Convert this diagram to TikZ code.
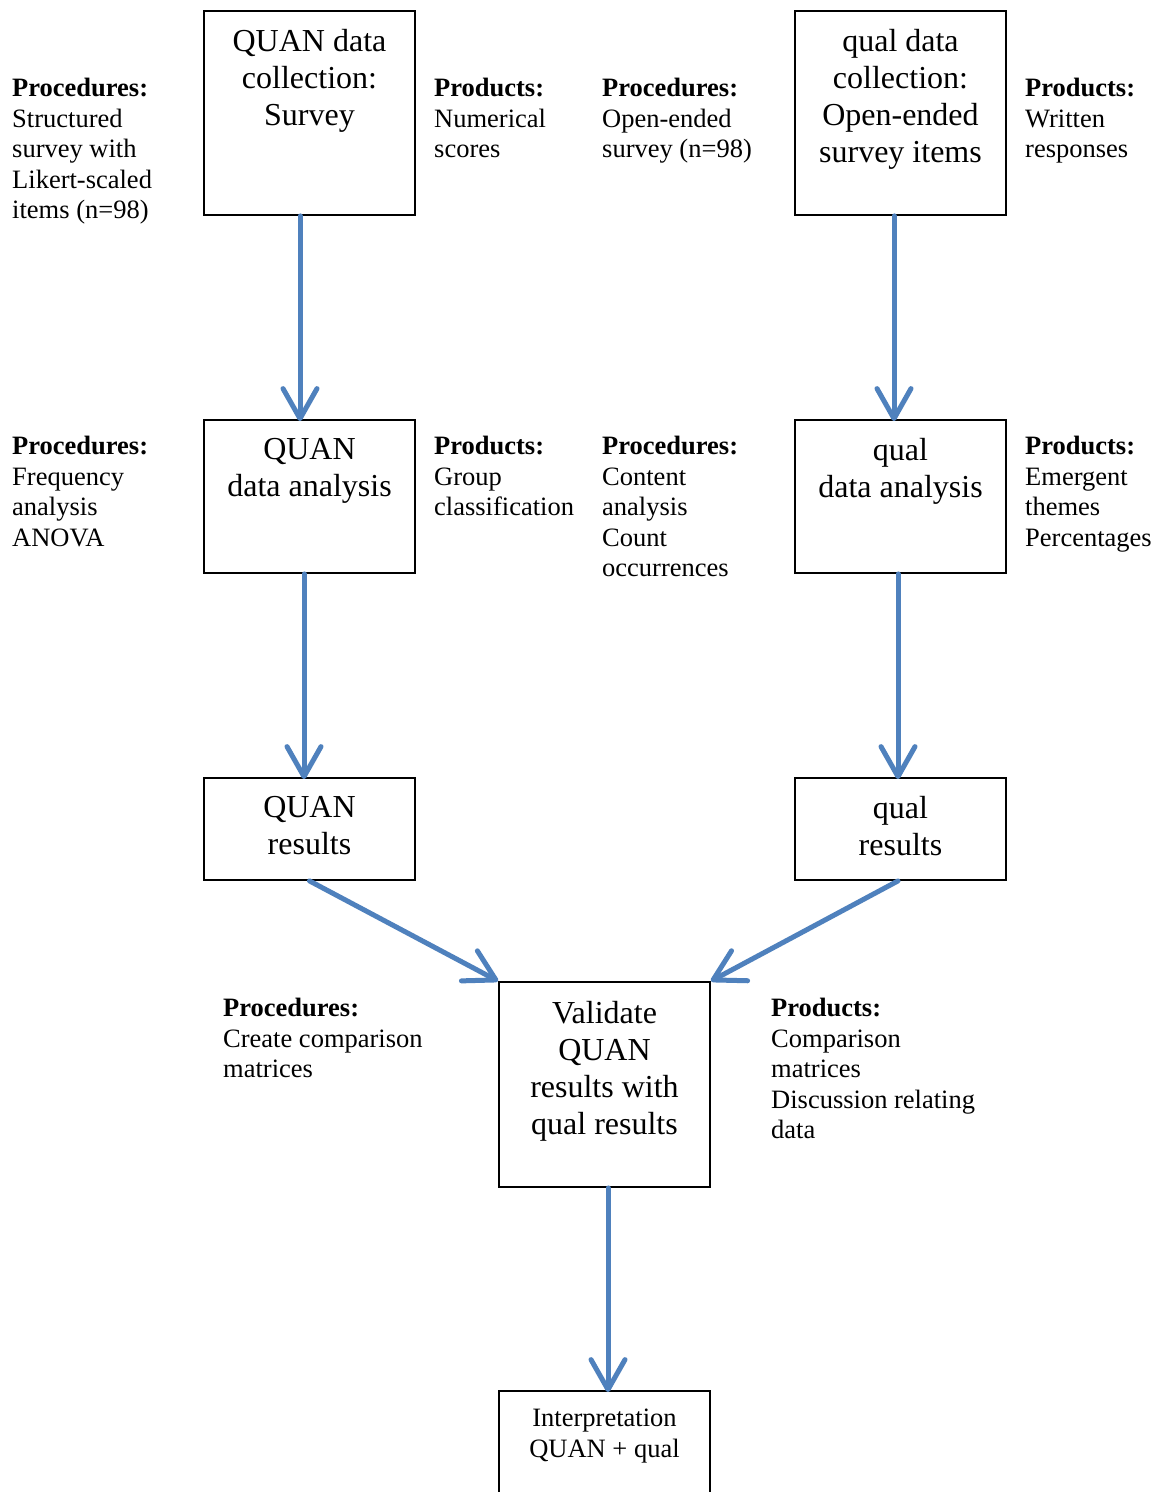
\documentclass[tikz,border=0pt]{standalone}
\usepackage{fontspec}
\setmainfont{Liberation Serif}
\usetikzlibrary{arrows.meta}
\definecolor{arrowblue}{HTML}{4F81BD}
\tikzset{
  box/.style={draw=black, line width=1.8pt, inner sep=0pt, minimum width=211pt},
  boxtext/.style={font=\fontsize{32}{37}\selectfont, align=center, inner sep=0pt, anchor=north, yshift=-4pt, execute at begin node=\strut},
  smalltext/.style={font=\fontsize{26.5}{31}\selectfont, align=center, inner sep=0pt, anchor=north, yshift=-3.5pt, execute at begin node=\strut},
  side/.style={font=\fontsize{26.5}{30.5}\selectfont, align=left, inner sep=0pt, anchor=north west, yshift=-3.5pt, execute at begin node=\strut},
  flow/.style={draw=arrowblue, line width=5pt, line cap=round, -{Straight Barb[length=30pt,width=34pt,round]}},
}
\begin{document}
\begin{tikzpicture}[x=1pt,y=-1pt]
\useasboundingbox (0,0) rectangle (1161,1492);
\clip (0,0) rectangle (1161,1492);
\fill[white] (0,0) rectangle (1161,1492);

% boxes
\node[box, minimum height=204pt] (b1) at (309.5,113) {};
\node[box, minimum height=204pt] (b2) at (900.5,113) {};
\node[box, minimum height=153pt] (b3) at (309.5,496.5) {};
\node[box, minimum height=153pt] (b4) at (900.5,496.5) {};
\node[box, minimum height=102pt] (b5) at (309.5,829) {};
\node[box, minimum height=102pt] (b6) at (900.5,829) {};
\node[box, minimum height=205pt] (b7) at (604.5,1084.5) {};
\node[box, minimum height=103pt] (b8) at (604.5,1442.5) {};

% box texts
\node[boxtext] (t1) at (309.5,25.1) {QUAN data\\collection:\\Survey};
\node[boxtext] (t2) at (900.5,25.1) {qual data\\collection:\\Open-ended\\survey items};
\node[boxtext] (t3) at (309.5,434.1) {QUAN\\data analysis};
\node[boxtext] (t4) at (900.5,434.1) {qual\\data analysis};
\node[boxtext] (t5) at (309.5,792.1) {QUAN\\results};
\node[boxtext] (t6) at (900.5,792.1) {qual\\results};
\node[boxtext] (t7) at (604.5,997.1) {Validate\\QUAN\\results with\\qual results};
\node[smalltext] (t8) at (604.5,1405.3) {Interpretation\\QUAN + qual};

% side labels
\node[side] (l1) at (12,74.65) {\textbf{Procedures:}\\Structured\\survey with\\Likert-scaled\\items (n=98)};
\node[side] (l2) at (434,74.65) {\textbf{Products:}\\Numerical\\scores};
\node[side] (l3) at (602,74.65) {\textbf{Procedures:}\\Open-ended\\survey (n=98)};
\node[side] (l4) at (1025,74.65) {\textbf{Products:}\\Written\\responses};
\node[side] (l5) at (12,432.65) {\textbf{Procedures:}\\Frequency\\analysis\\ANOVA};
\node[side] (l6) at (434,432.65) {\textbf{Products:}\\Group\\classification};
\node[side] (l7) at (602,432.65) {\textbf{Procedures:}\\Content\\analysis\\Count\\occurrences};
\node[side] (l8) at (1025,432.65) {\textbf{Products:}\\Emergent\\themes\\Percentages};
\node[side] (l9) at (223,994.65) {\textbf{Procedures:}\\Create comparison\\matrices};
\node[side] (l10) at (771,994.65) {\textbf{Products:}\\Comparison\\matrices\\Discussion relating\\data};

% connectors
\draw[flow] ([xshift=-9.5pt]b1.south) -- ([xshift=-9.5pt,yshift=-2pt]b3.north);
\draw[flow] ([xshift=-6.5pt]b2.south) -- ([xshift=-6.5pt,yshift=-2pt]b4.north);
\draw[flow] ([xshift=-5.5pt]b3.south) -- ([xshift=-5.5pt,yshift=-2pt]b5.north);
\draw[flow] ([xshift=-2.5pt]b4.south) -- ([xshift=-2.5pt,yshift=-2pt]b6.north);
\draw[flow] (b5.south) -- (b7.north west);
\draw[flow] ([xshift=-2.5pt]b6.south) -- (b7.north east);
\draw[flow] ([xshift=3.5pt]b7.south) -- ([xshift=3.5pt,yshift=-2pt]b8.north);
\end{tikzpicture}
\end{document}
